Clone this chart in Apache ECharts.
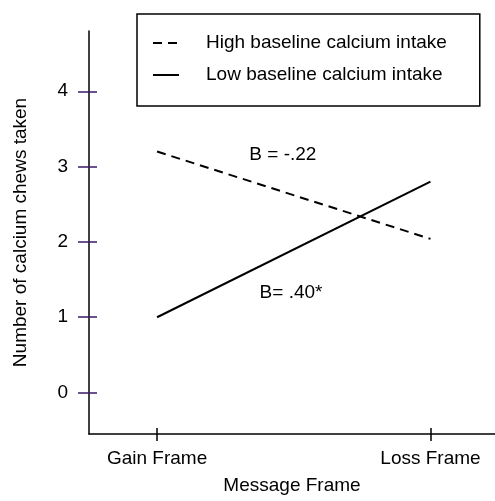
<!DOCTYPE html>
<html>
<head>
<meta charset="utf-8">
<script src="https://cdn.jsdelivr.net/npm/echarts@6/dist/echarts.min.js"></script>
<style>
  html, body { margin: 0; padding: 0; background: #fff; }
  #chart { width: 495px; height: 501px; }
</style>
</head>
<body>
<div id="chart"></div>
<script>
const categories = ['Gain Frame', 'Loss Frame'];
const highBaseline = [3.2, 2.04];
const lowBaseline = [1.0, 2.8];
const yTicks = [0, 1, 2, 3, 4];
const seriesNames = ['High baseline calcium intake', 'Low baseline calcium intake'];
const slopeLabels = ['B = -.22', 'B= .40*'];

const FONT = 'Liberation Sans, Arial, Helvetica, sans-serif';
const FS = 19;
const xIdx = categories.map((c, i) => i);

const chart = echarts.init(document.getElementById('chart'), null, { renderer: 'canvas' });

const yCommon = { type: 'value', min: -0.55, max: 4.8, splitLine: { show: false } };
const xCommon = { type: 'value', min: -0.249, max: 1.236, splitLine: { show: false } };

chart.setOption({
  animation: false,
  backgroundColor: '#fff',
  textStyle: { fontFamily: FONT },
  grid: { left: 89, right: 0, top: 31, bottom: 67 },
  legend: {
    left: 137, top: 14,
    orient: 'vertical',
    borderColor: '#000', borderWidth: 1.5, borderRadius: 0,
    padding: [19, 33, 21, 15],
    itemGap: 12,
    itemWidth: 26, itemHeight: 14,
    itemStyle: { opacity: 0 },
    lineStyle: { width: 2, color: '#000' },
    textStyle: { fontFamily: FONT, fontSize: FS, color: '#000', lineHeight: 20, padding: [0, 0, 0, 22] },
    data: seriesNames
  },
  xAxis: [
    Object.assign({}, xCommon, {
      name: 'Message Frame', nameLocation: 'middle', nameGap: 42,
      nameTextStyle: { fontFamily: FONT, fontSize: FS, color: '#000' },
      axisLine: { show: true, onZero: false, lineStyle: { color: '#000', width: 1.5 } },
      axisTick: { show: true, length: 7, customValues: xIdx, lineStyle: { color: '#000', width: 1.5 } },
      axisLabel: { show: true, margin: 15, customValues: xIdx, fontFamily: FONT, fontSize: FS, color: '#000',
        formatter: v => categories[Math.round(v)] || '' }
    }),
    Object.assign({}, xCommon, {
      position: 'bottom',
      axisLine: { show: false, onZero: false },
      axisTick: { show: true, inside: true, length: 6, customValues: xIdx, lineStyle: { color: '#000', width: 1.5 } },
      axisLabel: { show: false }
    })
  ],
  yAxis: [
    Object.assign({}, yCommon, {
      name: 'Number of calcium chews taken', nameLocation: 'middle', nameGap: 59,
      nameTextStyle: { fontFamily: FONT, fontSize: FS, color: '#000' },
      axisLine: { show: true, onZero: false, lineStyle: { color: '#000', width: 1.5 } },
      axisTick: { show: true, length: 11, customValues: yTicks, lineStyle: { color: '#3b1a6b', width: 1.5 } },
      axisLabel: { show: true, margin: 21, customValues: yTicks, fontFamily: FONT, fontSize: FS, color: '#000' }
    }),
    Object.assign({}, yCommon, {
      position: 'left',
      axisLine: { show: false, onZero: false },
      axisTick: { show: true, inside: true, length: 8, customValues: yTicks, lineStyle: { color: '#3b1a6b', width: 1.5 } },
      axisLabel: { show: false }
    })
  ],
  series: [
    {
      name: seriesNames[0], type: 'line', symbol: 'none',
      xAxisIndex: 0, yAxisIndex: 0,
      data: highBaseline.map((v, i) => [i, v]),
      lineStyle: { color: '#000', width: 2, type: [9, 6] },
      itemStyle: { color: '#000' },
      markPoint: {
        symbol: 'rect', symbolSize: 1, itemStyle: { color: 'rgba(0,0,0,0)' },
        label: { show: true, position: 'inside', formatter: p => p.name, fontFamily: FONT, fontSize: FS, color: '#000' },
        data: [{ name: slopeLabels[0], coord: [0.46, 3.16] }]
      }
    },
    {
      name: seriesNames[1], type: 'line', symbol: 'none',
      xAxisIndex: 0, yAxisIndex: 0,
      data: lowBaseline.map((v, i) => [i, v]),
      lineStyle: { color: '#000', width: 2, type: 'solid' },
      itemStyle: { color: '#000' },
      markPoint: {
        symbol: 'rect', symbolSize: 1, itemStyle: { color: 'rgba(0,0,0,0)' },
        label: { show: true, position: 'inside', formatter: p => p.name, fontFamily: FONT, fontSize: FS, color: '#000' },
        data: [{ name: slopeLabels[1], coord: [0.49, 1.33] }]
      }
    }
  ]
});
</script>
</body>
</html>
